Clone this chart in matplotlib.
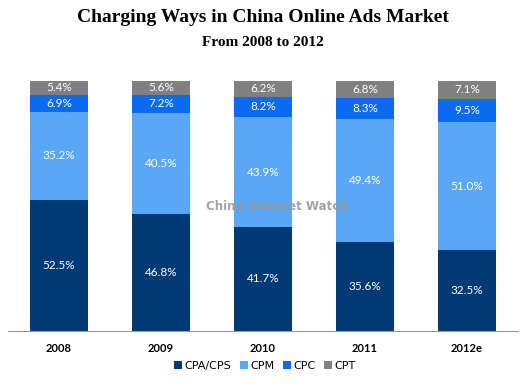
import matplotlib.pyplot as plt
import numpy as np

years = ['2008', '2009', '2010', '2011', '2012e']
cpa = [52.5, 46.8, 41.7, 35.6, 32.5]
cpm = [35.2, 40.5, 43.9, 49.4, 51.0]
cpc = [6.9, 7.2, 8.2, 8.3, 9.5]
cpt = [5.4, 5.6, 6.2, 6.8, 7.1]

series = [('CPA/CPS', cpa, '#003a75'),
          ('CPM', cpm, '#5aa7f5'),
          ('CPC', cpc, '#0a6af0'),
          ('CPT', cpt, '#808080')]

fig = plt.figure(figsize=(5.26, 3.85), dpi=100)
ax = fig.add_axes([8/526, 54/385, 510/526, 250/385])

x = np.arange(len(years))
bottom = np.zeros(len(years))
handles = []
for name, vals, color in series:
    vals = np.array(vals)
    b = ax.bar(x, vals, 0.57, bottom=bottom, color=color, label=name)
    handles.append(b)
    for xi, v, bt in zip(x, vals, bottom):
        ax.text(xi, bt + v / 2, f'{v:.1f}%', ha='center', va='center',
                color='white', fontsize=8.5, family='Lato')
    bottom += vals

ax.set_xlim(-0.5, 4.5)
ax.set_ylim(0, 100.1)
for s in ['top', 'right', 'left']:
    ax.spines[s].set_visible(False)
ax.spines['bottom'].set_color('#999999')
ax.set_yticks([])
ax.set_xticks(x)
ax.set_xticklabels(years, fontsize=8, fontweight='bold', family='Lato')
ax.tick_params(axis='x', length=0, pad=9)

fig.text(0.5, 1 - 18/385, 'Charging Ways in China Online Ads Market', ha='center', va='center',
         fontsize=14, fontweight='bold', family='Liberation Serif')
fig.text(0.5, 1 - 43/385, 'From 2008 to 2012', ha='center', va='center',
         fontsize=11, fontweight='bold', family='Liberation Serif')

# watermark
fig.text(277/526, 1 - 207/385, 'China Internet Watch', ha='center', va='center',
         fontsize=8.5, fontweight='bold', color='#999999', alpha=0.9, family='DejaVu Sans')

fig.legend(handles=handles, loc='center', bbox_to_anchor=(265/526, 1 - 366/385), ncol=4,
           frameon=False, handlelength=0.7, handleheight=0.7,
           handletextpad=0.2, columnspacing=0.8, prop={'family': 'DejaVu Sans', 'size': 8})

fig.savefig('out.png', dpi=100)
